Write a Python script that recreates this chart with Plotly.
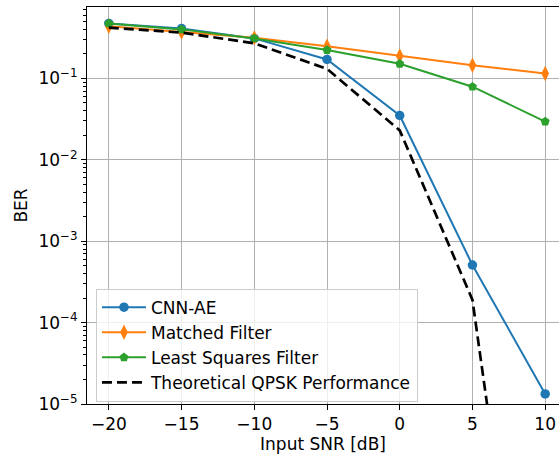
import plotly.graph_objects as go

snr = [-20, -15, -10, -5, 0, 5, 10]
cnn_ae = [0.474, 0.41, 0.31, 0.171, 0.035, 5.1e-4, 1.33e-5]
matched = [0.436, 0.37, 0.315, 0.249, 0.188, 0.145, 0.115]
least_sq = [0.474, 0.40, 0.31, 0.223, 0.151, 0.079, 0.0295]
theory = [0.42, 0.365, 0.27, 0.131, 0.023, 1.9e-4, 8e-11]

yticks = [1e-5, 1e-4, 1e-3, 1e-2, 1e-1]
yticktext = ["10<sup>−5</sup>", "10<sup>−4</sup>", "10<sup>−3</sup>", "10<sup>−2</sup>", "10<sup>−1</sup>"]
xticks = [-20, -15, -10, -5, 0, 5, 10]
xticktext = ["−20", "−15", "−10", "−5", "0", "5", "10"]

minor_vals = [m * 10.0 ** e for e in range(-5, 0) for m in range(2, 10)]

FONT = "DejaVu Sans"
FS = 17
fig = go.Figure()
fig.add_trace(go.Scatter(x=snr, y=cnn_ae, name="CNN-AE", mode="lines+markers",
                         line=dict(color="#1f77b4", width=2),
                         marker=dict(symbol="circle", size=9.5, color="#1f77b4")))
fig.add_trace(go.Scatter(x=snr, y=matched, name="Matched Filter", mode="lines+markers",
                         line=dict(color="#ff7f0e", width=2),
                         marker=dict(symbol="diamond-tall", size=11, color="#ff7f0e")))
fig.add_trace(go.Scatter(x=snr, y=least_sq, name="Least Squares Filter", mode="lines+markers",
                         line=dict(color="#2ca02c", width=2),
                         marker=dict(symbol="pentagon", size=9.5, color="#2ca02c")))
fig.add_trace(go.Scatter(x=snr, y=theory, name="Theoretical QPSK Performance", mode="lines",
                         line=dict(color="black", width=2.7, dash="10px,5px")))

fig.update_layout(
    width=559, height=460,
    margin=dict(l=87, r=0, t=7, b=56, autoexpand=False),
    paper_bgcolor="white", plot_bgcolor="white",
    font=dict(family=FONT, size=FS, color="black"),
    showlegend=True,
    legend=dict(x=0.019, y=0.006, xanchor="left", yanchor="bottom",
                bgcolor="rgba(255,255,255,0.8)", bordercolor="#cccccc", borderwidth=1,
                font=dict(family=FONT, size=FS), tracegroupgap=0, itemwidth=44),
    xaxis=dict(range=[-21.5, 10.95], tickmode="array", tickvals=xticks, ticktext=xticktext,
               showgrid=True, gridcolor="#b0b0b0", gridwidth=1, automargin=False,
               showline=True, linecolor="black", linewidth=1, mirror=True,
               ticks="outside", ticklen=5, tickcolor="black", zeroline=False,
               tickfont=dict(size=FS),
               title=dict(text="Input SNR [dB]", standoff=2, font=dict(size=FS))),
    yaxis=dict(type="log", range=[-5, -0.123], tickmode="array", tickvals=yticks, ticktext=yticktext,
               showgrid=True, gridcolor="#b0b0b0", gridwidth=1, automargin=False,
               showline=True, linecolor="black", linewidth=1,
               ticks="outside", ticklen=5, tickcolor="black", zeroline=False,
               tickfont=dict(size=FS),
               minor=dict(tickmode="array", tickvals=minor_vals, ticks="outside", ticklen=3,
                          tickcolor="black", showgrid=False),
               title=dict(text="BER", standoff=6, font=dict(size=FS))),
)
fig.write_html("out.html", config={"displayModeBar": False},
               post_script="document.body.style.margin='0';")
